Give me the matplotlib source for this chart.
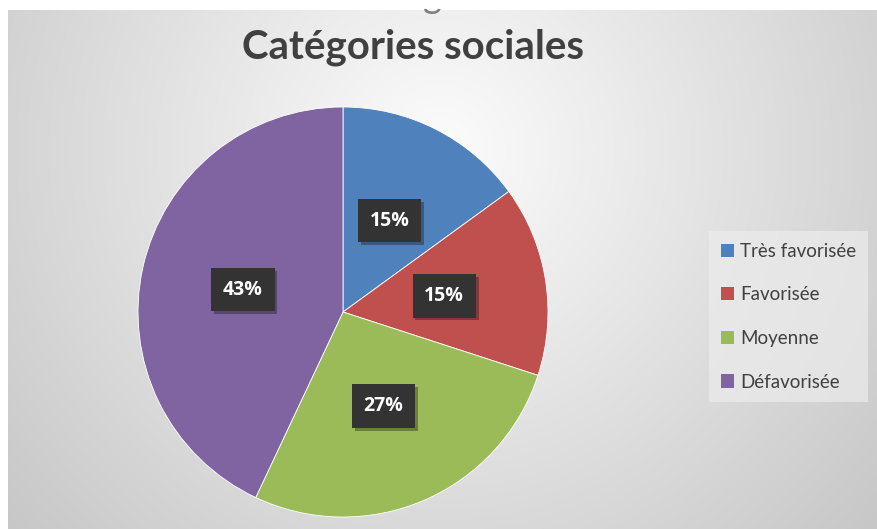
import numpy as np
import matplotlib.pyplot as plt
from matplotlib import patheffects
from matplotlib.patches import Rectangle

categories = ['Très favorisée', 'Favorisée', 'Moyenne', 'Défavorisée']
values = [15, 15, 27, 43]
colors = ['#4F81BD', '#C0504D', '#9BBB59', '#8064A2']
title = 'Catégories sociales'

W, H = 877, 529
fig = plt.figure(figsize=(W / 100, H / 100), dpi=100)

# background: grey radial gradient, white strips at top and left (screenshot crop)
bg = fig.add_axes([0, 0, 1, 1])
yy, xx = np.mgrid[0:H, 0:W]
d = np.sqrt((xx - 440.0) ** 2 + (yy - 150.0) ** 2)
v = np.clip(252 - 0.092 * d, 0, 255) / 255.0
v[:10, :] = 1.0
v[:, :8] = 1.0
img = np.dstack([v, v, v])
bg.imshow(img, extent=(0, W, H, 0), aspect='auto', interpolation='bilinear')
bg.set_xlim(0, W)
bg.set_ylim(H, 0)
bg.axis('off')

# descender of a cropped letter at the very top, its upper part hidden
bg.text(432, 8, 'g', ha='center', va='baseline', fontsize=26,
        family='Lato', color='#6a6a6a', alpha=0.85, zorder=3)
bg.add_patch(Rectangle((0, 0), W, 8.5, facecolor='white', edgecolor='none',
                       zorder=4))

fig.text(413 / W, 1 - 58 / H, title, ha='center', va='baseline',
         fontsize=29, family='Lato', fontweight='bold', color='#404040')

cx, cy, r = 343, 312, 205
ax = fig.add_axes([(cx - r) / W, (H - cy - r) / H, 2 * r / W, 2 * r / H])
wedges, texts, autotexts = ax.pie(
    values, colors=colors, startangle=90, counterclock=False,
    autopct='%1.0f%%', pctdistance=0.5,
    wedgeprops=dict(edgecolor='white', linewidth=0.6))
ax.set_xlim(-1, 1)
ax.set_ylim(-1, 1)
ax.set_aspect('equal')

for t in autotexts:
    t.set_color('white')
    t.set_fontsize(14)
    t.set_fontweight('bold')
    t.set_family('Open Sans')
    t.set_bbox(dict(boxstyle='square,pad=0.6', facecolor='#333333',
                    edgecolor='none'))
    t.get_bbox_patch().set_path_effects([
        patheffects.SimplePatchShadow(offset=(2, -2), alpha=0.35),
        patheffects.Normal()])

leg = fig.legend(wedges, categories, loc='upper left',
                 bbox_to_anchor=(700 / W, 1 - 222 / H),
                 frameon=True, fancybox=False, facecolor='#ececec',
                 edgecolor='none', framealpha=0.7,
                 prop={'family': 'Lato', 'size': 13.5},
                 handlelength=0.7, handleheight=0.7, handletextpad=0.35,
                 labelspacing=1.42, borderpad=0.6)
for t in leg.get_texts():
    t.set_color('#404040')
for h in leg.legend_handles:
    h.set_linewidth(0)

fig.savefig('out.png', dpi=100)
